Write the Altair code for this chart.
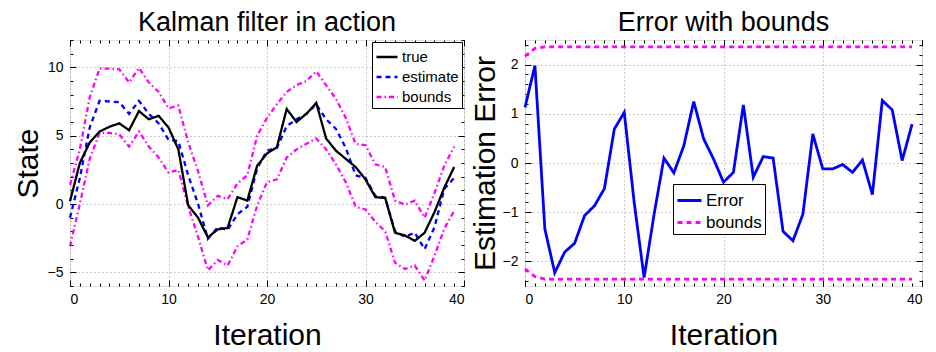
import altair as alt
import pandas as pd

# ---------------- data ----------------
iterations = list(range(40))

true_state = [0.2, 3.0, 4.5, 5.3, 5.65, 5.9, 5.4, 6.8, 6.2, 6.45,
              5.6, 4.0, -0.1, -1.0, -2.45, -1.85, -1.75, 0.5, 0.25, 2.8,
              3.7, 4.15, 6.95, 6.0, 6.6, 7.4, 4.8, 3.9, 3.3, 2.7,
              1.8, 0.5, 0.44, -2.1, -2.3, -2.7, -2.1, -0.6, 1.2, 2.7]
estimate = [-1.0, 1.9, 5.6, 7.55, 7.5, 7.45, 6.6, 7.55, 6.6, 5.9,
            4.7, 4.6, 2.1, 0.0, -2.55, -1.7, -1.9, -0.75, -0.2, 2.6,
            3.9, 4.1, 5.7, 6.2, 6.6, 7.3, 6.2, 5.5, 4.1, 2.1,
            1.9, 0.6, 0.45, -2.0, -2.4, -2.1, -3.3, -1.7, 1.1, 1.9]
upper_bound = [1.4, 4.0, 7.8, 9.9, 9.9, 9.85, 8.9, 9.95, 8.9, 8.2,
               7.0, 7.2, 4.5, 2.4, -0.1, 0.6, 0.35, 1.5, 2.1, 5.0,
               6.3, 7.3, 8.2, 8.7, 9.0, 9.7, 8.7, 7.7, 6.3, 4.4,
               4.3, 2.9, 2.7, 0.25, -0.05, 0.25, -1.0, 0.8, 2.8, 4.2]
lower_bound = [-3.1, 0.0, 3.3, 5.2, 5.2, 5.1, 4.2, 5.3, 4.2, 3.4,
               2.3, 2.5, -0.2, -2.4, -4.85, -4.1, -4.5, -3.1, -2.6, -0.1,
               1.6, 1.8, 3.4, 4.0, 4.4, 4.8, 4.0, 2.9, 1.6, -0.2,
               -0.4, -1.3, -2.0, -4.3, -4.75, -4.5, -5.6, -3.8, -1.8, -0.5]

error = [1.13, 1.98, -1.34, -2.23, -1.81, -1.63, -1.07, -0.87, -0.52, 0.69,
         1.03, -0.8, -2.33, -1.05, 0.1, -0.2, 0.35, 1.25, 0.49, 0.08,
         -0.39, -0.19, 1.18, -0.29, 0.13, 0.1, -1.39, -1.58, -1.04, 0.59,
         -0.12, -0.12, -0.03, -0.19, 0.06, -0.64, 1.27, 1.08, 0.05, 0.79]
err_upper = [2.17, 2.33, 2.36, 2.36, 2.36, 2.36, 2.36, 2.36, 2.36, 2.36,
             2.36, 2.36, 2.36, 2.36, 2.36, 2.36, 2.36, 2.36, 2.36, 2.36,
             2.36, 2.36, 2.36, 2.36, 2.36, 2.36, 2.36, 2.36, 2.36, 2.36,
             2.36, 2.36, 2.36, 2.36, 2.36, 2.36, 2.36, 2.36, 2.36, 2.36]
err_lower = [-2.15, -2.31, -2.36, -2.36, -2.36, -2.36, -2.36, -2.36, -2.36, -2.36,
             -2.36, -2.36, -2.36, -2.36, -2.36, -2.36, -2.36, -2.36, -2.36, -2.36,
             -2.36, -2.36, -2.36, -2.36, -2.36, -2.36, -2.36, -2.36, -2.36, -2.36,
             -2.36, -2.36, -2.36, -2.36, -2.36, -2.36, -2.36, -2.36, -2.36, -2.36]

left_series = ["true", "estimate", "bounds"]
right_series = ["Error", "bounds"]

x_major = [0, 10, 20, 30, 40]
x_minor = list(range(0, 41))
left_y_major = [-5, 0, 5, 10]
left_y_minor = list(range(-6, 13))
right_y_major = [-2, -1, 0, 1, 2]
right_y_minor = [-2.4, -2.2, -2.0, -1.8, -1.6, -1.4, -1.2, -1.0, -0.8, -0.6, -0.4, -0.2,
                 0.0, 0.2, 0.4, 0.6, 0.8, 1.0, 1.2, 1.4, 1.6, 1.8, 2.0, 2.2, 2.4]

# ---------------- tables ----------------
def long_table(cols, name_field):
    rows = []
    for series, line_id, vals in cols:
        for i, v in zip(iterations, vals):
            rows.append({"iter": i, "value": v, name_field: series, "line": line_id})
    return pd.DataFrame(rows)

left_df = long_table([
    ("bounds", "upper", upper_bound),
    ("bounds", "lower", lower_bound),
    ("estimate", "estimate", estimate),
    ("true", "true", true_state),
], "series")

right_df = long_table([
    ("bounds", "upper", err_upper),
    ("bounds", "lower", err_lower),
    ("Error", "error", error),
], "kind")

FONT = "Liberation Sans, Arial, Helvetica, sans-serif"
NARROW = "Liberation Sans Narrow, Arial Narrow, Liberation Sans, sans-serif"

def main_axis(orient, values, title, title_pad, label_pad):
    return alt.Axis(orient=orient, values=values, grid=True, gridDash=[1, 3],
                    gridColor="#9a9a9a", gridWidth=1, ticks=False, domain=False,
                    labelFont=NARROW, labelFontSize=14, labelColor="black",
                    labelPadding=label_pad, title=title, titleFont=FONT,
                    titleFontSize=30, titleFontWeight="normal", titleColor="black",
                    titlePadding=title_pad)

def tick_axis(orient, values, size):
    return alt.Axis(orient=orient, values=values, labels=False, grid=False,
                    domain=False, ticks=True, tickSize=size, offset=-size,
                    tickColor="black", tickWidth=1, title=None)

def panel(df, field, y_dom, y_major, y_minor, y_title, color_range, dash_range,
          domain, legend, title_text, width, ytitle_pad, line_width):
    xs = alt.Scale(domain=[0, 40], nice=False, zero=False)
    ys = alt.Scale(domain=y_dom, nice=False, zero=False)
    main = alt.Chart(df).mark_line(strokeWidth=line_width).encode(
        x=alt.X("iter:Q", scale=xs,
                axis=main_axis("bottom", x_major, "Iteration", 14, 6)),
        y=alt.Y("value:Q", scale=ys,
                axis=main_axis("left", y_major, y_title, ytitle_pad, 7)),
        color=alt.Color(f"{field}:N", scale=alt.Scale(domain=domain, range=color_range),
                        legend=legend),
        strokeDash=alt.StrokeDash(f"{field}:N",
                                  scale=alt.Scale(domain=domain, range=dash_range),
                                  legend=legend),
        detail="line:N",
    )
    layers = [main]
    for (xo, yo, xv, yv, sz) in [("bottom", "left", x_minor, y_minor, 3),
                                 ("top", "right", x_minor, y_minor, 3),
                                 ("bottom", "left", x_major, y_major, 6),
                                 ("top", "right", x_major, y_major, 6)]:
        layers.append(
            alt.Chart(df).mark_line(strokeOpacity=0).encode(
                x=alt.X("iter:Q", scale=xs, axis=tick_axis(xo, xv, sz)),
                y=alt.Y("value:Q", scale=ys, axis=tick_axis(yo, yv, sz)),
                detail="line:N",
            )
        )
    return alt.layer(*layers).resolve_axis(x="independent", y="independent").properties(
        width=width, height=246,
        title=alt.TitleParams(title_text, font=FONT, fontSize=27, fontWeight="normal",
                              color="black", anchor="middle", offset=3),
    )

left_legend = alt.Legend(title=None, orient="top-right", offset=2, strokeColor="black",
                         fillColor="white", padding=3, labelFont=FONT, labelFontSize=15,
                         labelColor="black", symbolType="stroke", symbolSize=441,
                         symbolStrokeWidth=2.3, rowPadding=0, labelOffset=3)
right_legend = alt.Legend(title=None, orient="none", legendX=148, legendY=144,
                          strokeColor="black", fillColor="white", padding=3,
                          labelFont=FONT, labelFontSize=17, labelColor="black",
                          symbolType="stroke", symbolSize=576, symbolStrokeWidth=2.8,
                          rowPadding=0, labelOffset=3)

left = panel(left_df, "series", [-6, 12], left_y_major, left_y_minor, "State",
             ["black", "#0000ff", "#ff00ff"], [[1, 0], [5, 4], [5, 3, 1.5, 3]],
             left_series, left_legend, "Kalman filter in action", 394, 4, 2.3)
right = panel(right_df, "kind", [-2.5, 2.5], right_y_major, right_y_minor,
              "Estimation Error", ["#0000ff", "#ff00ff"], [[1, 0], [5, 4]],
              right_series, right_legend, "Error with bounds", 397, 2, 2.8)

chart = alt.hconcat(left, right, spacing=4).resolve_scale(
    color="independent", strokeDash="independent"
).properties(
    padding={"left": 4, "top": 0, "right": 2, "bottom": 0}
).configure_view(stroke="black", strokeWidth=1.5).configure(background="white")

chart.save("out.html", embed_options={"renderer": "svg", "actions": False})
